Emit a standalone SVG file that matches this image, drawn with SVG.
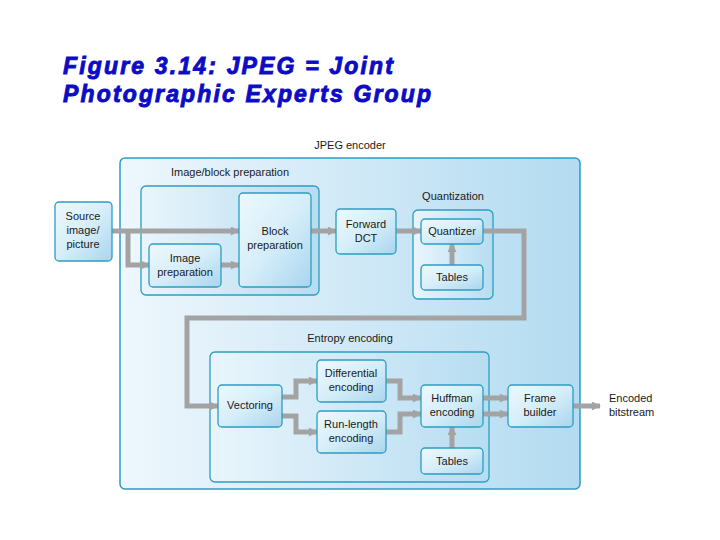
<svg xmlns="http://www.w3.org/2000/svg" width="720" height="540" viewBox="0 0 720 540">
<defs>
<linearGradient id="gBig" x1="0" y1="0" x2="1" y2="0">
<stop offset="0" stop-color="#eef7fd"/>
<stop offset="1" stop-color="#b3dbf1"/>
</linearGradient>
<linearGradient id="gCont" x1="0" y1="0" x2="1" y2="0">
<stop offset="0" stop-color="#e9f5fc"/>
<stop offset="1" stop-color="#b7ddf1"/>
</linearGradient>
<linearGradient id="gNode" x1="0" y1="0" x2="1" y2="1">
<stop offset="0" stop-color="#eef8fd"/>
<stop offset="0.5" stop-color="#d6eef9"/>
<stop offset="1" stop-color="#a9d5ee"/>
</linearGradient>
<marker id="ah" viewBox="0 0 10 10" refX="9" refY="5" markerWidth="10" markerHeight="9" markerUnits="userSpaceOnUse" orient="auto">
<path d="M0,0 L10,5 L0,10 Z" fill="#a3a3a3"/>
</marker>
<style>
.frame{fill:url(#gBig);stroke:#2c9dc2;stroke-width:1.5}
.cont{fill:url(#gCont);stroke:#2c9dc2;stroke-width:1.3}
.node{fill:url(#gNode);stroke:#2c9dc2;stroke-width:1.3}
.t{font-family:"Liberation Sans",Arial,sans-serif;font-size:11px;fill:#1a1a1a;text-anchor:middle}
.tl{font-family:"Liberation Sans",Arial,sans-serif;font-size:11px;fill:#1a1a1a}
.title{font-family:"Liberation Sans",Arial,sans-serif;font-size:23px;font-weight:bold;font-style:italic;fill:#0c0cc4;stroke:#0c0cc4;stroke-width:0.9}
.c{fill:none;stroke:#a3a3a3;stroke-width:5}
.ca{fill:none;stroke:#a3a3a3;stroke-width:5;marker-end:url(#ah)}
</style>
</defs>
<rect width="720" height="540" fill="#ffffff"/>
<text class="title" x="63" y="74" textLength="330" lengthAdjust="spacing">Figure 3.14: JPEG = Joint</text>
<text class="title" x="63" y="102" textLength="368" lengthAdjust="spacing">Photographic Experts Group</text>

<g id="jpeg-encoder">
<rect class="frame" x="120" y="158" width="460" height="331" rx="5"/>
<text class="t" x="350" y="149">JPEG encoder</text>
</g>
<g id="image-block-preparation">
<rect class="cont" x="141" y="186" width="178" height="109" rx="5"/>
<text class="t" x="230" y="176">Image/block preparation</text>
</g>
<g id="quantization">
<rect class="cont" x="413" y="210" width="80" height="89" rx="5"/>
<text class="t" x="453" y="200">Quantization</text>
</g>
<g id="entropy-encoding">
<rect class="cont" x="210" y="352" width="279" height="130" rx="5"/>
<text class="t" x="350" y="342">Entropy encoding</text>
</g>

<g id="connectors">
<path class="ca" d="M112,231 H239"/>
<path class="ca" d="M128,231 V265 H149"/>
<path class="ca" d="M221,265 H239"/>
<path class="ca" d="M311,231 H336"/>
<path class="ca" d="M396,231 H421"/>
<path class="ca" d="M452,265 V244"/>
<path class="ca" d="M483,231 H524 V318 H187 V406 H218"/>
<path class="ca" d="M282,397 H296 V381 H317"/>
<path class="ca" d="M282,416 H296 V432 H317"/>
<path class="ca" d="M386,381 H400 V398 H421"/>
<path class="ca" d="M386,432 H400 V414 H421"/>
<path class="ca" d="M452,448 V427"/>
<path class="ca" d="M483,398 H508"/>
<path class="ca" d="M483,414 H508"/>
<path class="ca" d="M573,406 H600"/>
</g>

<g id="source">
<rect class="node" x="55" y="202" width="57" height="59" rx="4"/>
<text class="t" x="83" y="220">Source</text>
<text class="t" x="83" y="234">image/</text>
<text class="t" x="83" y="248">picture</text>
</g>
<g id="image-preparation">
<rect class="node" x="149" y="244" width="72" height="43" rx="4"/>
<text class="t" x="185" y="262">Image</text>
<text class="t" x="185" y="276">preparation</text>
</g>
<g id="block-preparation">
<rect class="node" x="239" y="193" width="72" height="94" rx="4"/>
<text class="t" x="275" y="235">Block</text>
<text class="t" x="275" y="249">preparation</text>
</g>
<g id="forward-dct">
<rect class="node" x="336" y="209" width="60" height="45" rx="4"/>
<text class="t" x="366" y="228">Forward</text>
<text class="t" x="366" y="242">DCT</text>
</g>
<g id="quantizer">
<rect class="node" x="421" y="219" width="62" height="25" rx="4"/>
<text class="t" x="452" y="235">Quantizer</text>
</g>
<g id="q-tables">
<rect class="node" x="421" y="265" width="62" height="25" rx="4"/>
<text class="t" x="452" y="281">Tables</text>
</g>
<g id="vectoring">
<rect class="node" x="218" y="385" width="64" height="42" rx="4"/>
<text class="t" x="250" y="409">Vectoring</text>
</g>
<g id="differential-encoding">
<rect class="node" x="317" y="360" width="69" height="42" rx="4"/>
<text class="t" x="351" y="377">Differential</text>
<text class="t" x="351" y="391">encoding</text>
</g>
<g id="run-length-encoding">
<rect class="node" x="317" y="411" width="69" height="42" rx="4"/>
<text class="t" x="351" y="428">Run-length</text>
<text class="t" x="351" y="442">encoding</text>
</g>
<g id="huffman-encoding">
<rect class="node" x="421" y="385" width="62" height="42" rx="4"/>
<text class="t" x="452" y="402">Huffman</text>
<text class="t" x="452" y="416">encoding</text>
</g>
<g id="e-tables">
<rect class="node" x="421" y="448" width="62" height="26" rx="4"/>
<text class="t" x="452" y="465">Tables</text>
</g>
<g id="frame-builder">
<rect class="node" x="508" y="385" width="65" height="42" rx="4"/>
<text class="t" x="540" y="402">Frame</text>
<text class="t" x="540" y="416">builder</text>
</g>
<g id="output">
<text class="tl" x="609" y="402">Encoded</text>
<text class="tl" x="609" y="416">bitstream</text>
</g>
</svg>
